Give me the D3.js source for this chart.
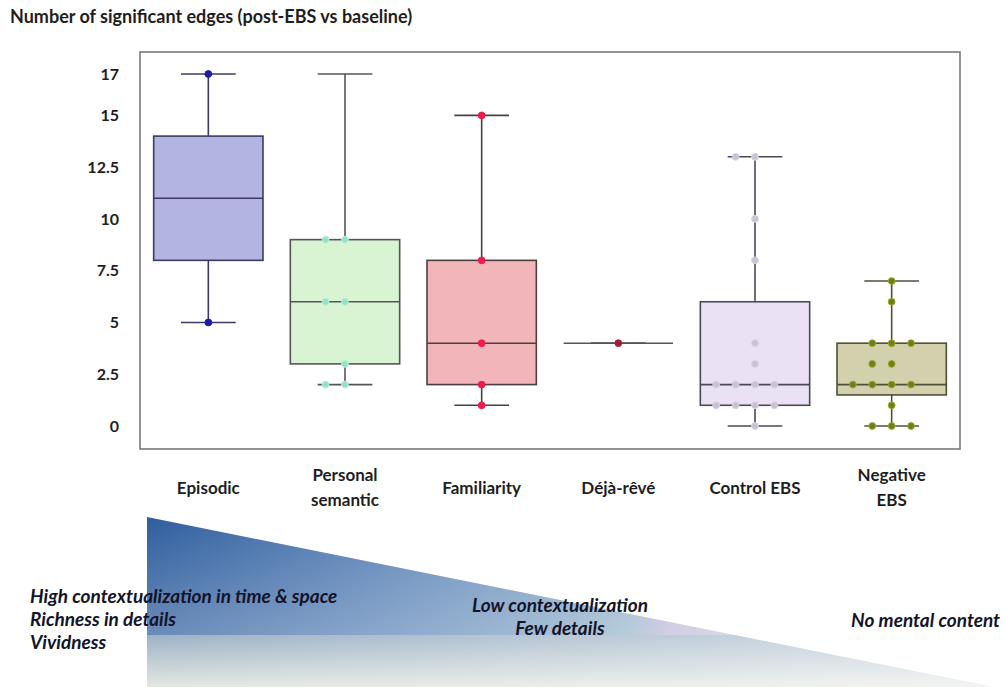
<!DOCTYPE html>
<html>
<head>
<meta charset="utf-8">
<script src="https://cdn.jsdelivr.net/npm/d3@7"></script>
<style>
  html, body { margin: 0; padding: 0; background: #ffffff; }
  svg { display: block; }
  text { font-family: Lato, "Open Sans", "DejaVu Sans", sans-serif; }
</style>
</head>
<body>
<svg id="chart" width="1004" height="687"></svg>
<script>
// ---------------- data ----------------
const categories = ["Episodic", "Personal semantic", "Familiarity", "Déjà-rêvé", "Control EBS", "Negative EBS"];
const categoryLines = [["Episodic"], ["Personal", "semantic"], ["Familiarity"], ["Déjà-rêvé"], ["Control EBS"], ["Negative", "EBS"]];
const mins    = [5, 2, 1, 4, 0, 0];
const q1s     = [8, 3, 2, 4, 1, 1.5];
const medians = [11, 6, 4, 4, 2, 2];
const q3s     = [14, 9, 8, 4, 6, 4];
const maxs    = [17, 17, 15, 4, 13, 7];
const pointsEpisodic   = [17, 5];
const pointsPersonal   = [9, 9, 6, 6, 3, 2, 2];
const pointsFamiliar   = [15, 8, 4, 2, 1];
const pointsDejaReve   = [4];
const pointsControl    = [13, 13, 10, 8, 4, 3, 2, 2, 2, 2, 1, 1, 1, 1, 0];
const pointsNegative   = [7, 6, 4, 4, 4, 3, 3, 2, 2, 2, 2, 1, 0, 0, 0];
const yTickValues = [0, 2.5, 5, 7.5, 10, 12.5, 15, 17];
const titleText = "Number of significant edges (post-EBS vs baseline)";
const leftNotes = ["High contextualization in time & space", "Richness in details", "Vividness"];
const midNotes = ["Low contextualization", "Few details"];
const rightNotes = ["No mental content"];

// ---------------- styles ----------------
const boxFills    = ["#b4b4e2", "#d8f4d2", "#f1b5ba", "#f4eef6", "#ebe1f4", "#d3d0ae"];
const boxStrokes  = ["#3b3b66", "#555555", "#4a4040", "#555555", "#4a4a55", "#4f4f3a"];
const pointFills  = ["#1c1ca6", "#97e2c6", "#ef1c4c", "#a3203c", "#c8c2d4", "#6f7d1c"];
const pointStroke = ["#1c1ca6", "#b8f0d8", "#ef1c4c", "#a3203c", "#d8d2e0", "#9aab22"];

const allPoints = [pointsEpisodic, pointsPersonal, pointsFamiliar, pointsDejaReve, pointsControl, pointsNegative];
const groups = categories.map((c, i) => ({
  cat: c, lines: categoryLines[i], min: mins[i], q1: q1s[i], med: medians[i], q3: q3s[i], max: maxs[i],
  pts: allPoints[i], i
}));

const svg = d3.select("#chart");
const frame = { left: 140, right: 960, top: 52, bottom: 449 };

const x = d3.scaleBand().domain(categories).range([frame.left, frame.right]).padding(0);
const y = d3.scaleLinear().domain([0, 17]).range([426, 74]);

// ---------------- gradient triangle ----------------
const defs = svg.append("defs");
const gTop = defs.append("linearGradient").attr("id", "gTop").attr("x1", "0").attr("x2", "1").attr("y1", "0").attr("y2", "0");
[["0%", "#2f5e9e"], ["25%", "#5a82b6"], ["45%", "#7d9fc4"], ["57%", "#9cb8cc"], ["62%", "#c2bcda"], ["75%", "#d2d0e0"], ["100%", "#eeeef2"]]
  .forEach(([o, c]) => gTop.append("stop").attr("offset", o).attr("stop-color", c));
const gTopV = defs.append("linearGradient").attr("id", "gTopV").attr("x1", "0").attr("x2", "0").attr("y1", "0").attr("y2", "1");
gTopV.append("stop").attr("offset", "0%").attr("stop-color", "#ffffff").attr("stop-opacity", 0);
gTopV.append("stop").attr("offset", "100%").attr("stop-color", "#ffffff").attr("stop-opacity", 0.28);
const gBot = defs.append("linearGradient").attr("id", "gBot").attr("x1", "0").attr("x2", "0").attr("y1", "0").attr("y2", "1");
gBot.append("stop").attr("offset", "0%").attr("stop-color", "#9db2c6");
gBot.append("stop").attr("offset", "100%").attr("stop-color", "#e4e8e2");
const gBotH = defs.append("linearGradient").attr("id", "gBotH").attr("x1", "0").attr("x2", "1").attr("y1", "0").attr("y2", "0");
gBotH.append("stop").attr("offset", "0%").attr("stop-color", "#ffffff").attr("stop-opacity", 0);
gBotH.append("stop").attr("offset", "100%").attr("stop-color", "#ffffff").attr("stop-opacity", 0.55);

const tri = { x0: 147, yTop: 517, yBot: 687, x1: 993, split: 635 };
defs.append("clipPath").attr("id", "triClip").append("polygon")
  .attr("points", `${tri.x0},${tri.yTop} ${tri.x0},${tri.yBot} ${tri.x1},${tri.yBot}`);
const tg = svg.append("g").attr("clip-path", "url(#triClip)");
tg.append("rect").attr("x", tri.x0).attr("y", tri.yTop).attr("width", tri.x1 - tri.x0).attr("height", tri.split - tri.yTop).attr("fill", "url(#gTop)");
tg.append("rect").attr("x", tri.x0).attr("y", tri.yTop).attr("width", tri.x1 - tri.x0).attr("height", tri.split - tri.yTop).attr("fill", "url(#gTopV)");
tg.append("rect").attr("x", tri.x0).attr("y", tri.split).attr("width", tri.x1 - tri.x0).attr("height", tri.yBot - tri.split).attr("fill", "url(#gBot)");
tg.append("rect").attr("x", tri.x0).attr("y", tri.split).attr("width", tri.x1 - tri.x0).attr("height", tri.yBot - tri.split).attr("fill", "url(#gBotH)");

// ---------------- title ----------------
svg.append("text").attr("x", 10).attr("y", 23)
  .attr("font-size", 18).attr("font-weight", 700).attr("fill", "#1e1e1e")
  .text(titleText);

// ---------------- frame ----------------
svg.append("rect")
  .attr("x", frame.left).attr("y", frame.top)
  .attr("width", frame.right - frame.left).attr("height", frame.bottom - frame.top)
  .attr("fill", "none").attr("stroke", "#7a7a7a").attr("stroke-width", 1.6);

// ---------------- y axis ----------------
const yAxis = d3.axisLeft(y).tickValues(yTickValues).tickSize(0).tickPadding(21)
  .tickFormat(d => String(d));
const ya = svg.append("g").attr("transform", `translate(${frame.left},0)`).call(yAxis);
ya.select(".domain").remove();
ya.selectAll("text").attr("font-size", 16).attr("font-weight", 700).attr("fill", "#1e1e1e")
  .attr("font-family", "Lato, 'Open Sans', sans-serif");

// ---------------- boxes ----------------
const bw = x.bandwidth();
const boxW = bw * 0.8, capW = bw * 0.4, ptStep = bw * 0.142;
const cx = d => x(d.cat) + bw / 2;

const g = svg.append("g").selectAll("g.box").data(groups).join("g").attr("class", "box");

// whiskers
g.append("line").attr("x1", cx).attr("x2", cx).attr("y1", d => y(d.max)).attr("y2", d => y(d.q3))
  .attr("stroke", d => boxStrokes[d.i]).attr("stroke-width", 1.6);
g.append("line").attr("x1", cx).attr("x2", cx).attr("y1", d => y(d.q1)).attr("y2", d => y(d.min))
  .attr("stroke", d => boxStrokes[d.i]).attr("stroke-width", 1.6);
g.append("line").attr("x1", d => cx(d) - capW / 2).attr("x2", d => cx(d) + capW / 2)
  .attr("y1", d => y(d.max)).attr("y2", d => y(d.max))
  .attr("stroke", d => boxStrokes[d.i]).attr("stroke-width", 1.6);
g.append("line").attr("x1", d => cx(d) - capW / 2).attr("x2", d => cx(d) + capW / 2)
  .attr("y1", d => y(d.min)).attr("y2", d => y(d.min))
  .attr("stroke", d => boxStrokes[d.i]).attr("stroke-width", 1.6);
// box
g.filter(d => d.q3 > d.q1).append("rect")
  .attr("x", d => cx(d) - boxW / 2).attr("width", boxW)
  .attr("y", d => y(d.q3)).attr("height", d => y(d.q1) - y(d.q3))
  .attr("fill", d => boxFills[d.i]).attr("stroke", d => boxStrokes[d.i]).attr("stroke-width", 1.6);
// median
g.append("line").attr("x1", d => cx(d) - boxW / 2).attr("x2", d => cx(d) + boxW / 2)
  .attr("y1", d => y(d.med)).attr("y2", d => y(d.med))
  .attr("stroke", d => boxStrokes[d.i]).attr("stroke-width", 1.6);

// points (duplicates spread horizontally)
g.each(function (d) {
  const counts = d3.rollup(d.pts, v => v.length, v => v);
  const seen = new Map();
  const pts = d.pts.map(v => {
    const k = counts.get(v);
    const idx = seen.get(v) || 0; seen.set(v, idx + 1);
    return { v, off: idx - Math.floor(k / 2) };
  });
  d3.select(this).selectAll("circle").data(pts).join("circle")
    .attr("cx", p => cx(d) + p.off * ptStep)
    .attr("cy", p => y(p.v))
    .attr("r", 3.4)
    .attr("fill", pointFills[d.i])
    .attr("stroke", pointStroke[d.i]).attr("stroke-width", 1);
});

// ---------------- category labels ----------------
const lab = svg.append("g").selectAll("text").data(groups).join("text")
  .attr("x", cx).attr("text-anchor", "middle")
  .attr("font-size", 17).attr("font-weight", 700).attr("fill", "#1e1e1e");
lab.each(function (d) {
  const sel = d3.select(this);
  const base = d.lines.length === 1 ? 494 : 481;
  d.lines.forEach((ln, j) => {
    sel.append("tspan").attr("x", cx(d)).attr("y", base + j * 25).text(ln);
  });
});

// ---------------- annotations ----------------
const noteStyle = s => s.attr("font-size", 19).attr("font-weight", 700).attr("font-style", "italic").attr("fill", "#141428");
svg.append("g").selectAll("text").data(leftNotes).join("text")
  .attr("x", 30).attr("y", (d, j) => 603 + j * 23).text(d => d).call(noteStyle);
svg.append("g").selectAll("text").data(midNotes).join("text")
  .attr("x", 560).attr("y", (d, j) => 612 + j * 23).attr("text-anchor", "middle").text(d => d).call(noteStyle);
svg.append("g").selectAll("text").data(rightNotes).join("text")
  .attr("x", 1000).attr("y", 627).attr("text-anchor", "end").text(d => d).call(noteStyle);
</script>
</body>
</html>
